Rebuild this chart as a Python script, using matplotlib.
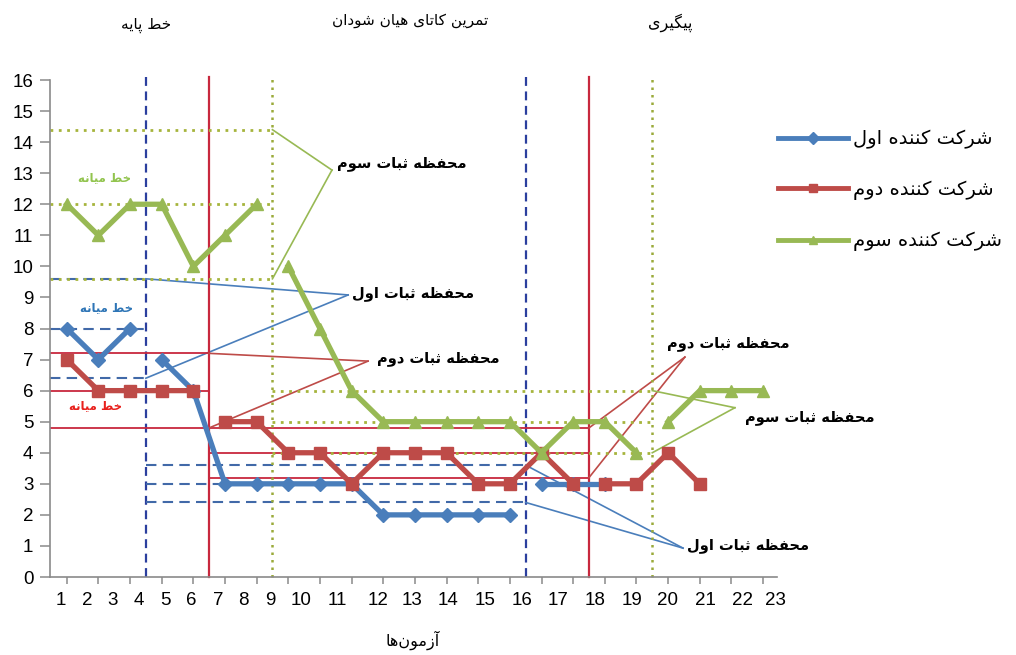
import numpy as np
import matplotlib
matplotlib.use("Agg")
import matplotlib.pyplot as plt
from matplotlib import font_manager as fm
from matplotlib.lines import Line2D

# ---------------- data ----------------
p1_base_x = [1, 2, 3]
p1_base_y = [8, 7, 8]
p1_int_x = list(range(4, 16))
p1_int_y = [7, 6, 3, 3, 3, 3, 3, 2, 2, 2, 2, 2]
p1_fu_x = [16, 17, 18]
p1_fu_y = [3, 3, 3]

p2_base_x = [1, 2, 3, 4, 5]
p2_base_y = [7, 6, 6, 6, 6]
p2_int_x = list(range(6, 18))
p2_int_y = [5, 5, 4, 4, 3, 4, 4, 4, 3, 3, 4, 3]
p2_fu_x = [18, 19, 20, 21]
p2_fu_y = [3, 3, 4, 3]

p3_base_x = [1, 2, 3, 4, 5, 6, 7]
p3_base_y = [12, 11, 12, 12, 10, 11, 12]
p3_int_x = list(range(8, 20))
p3_int_y = [10, 8, 6, 5, 5, 5, 5, 5, 4, 5, 5, 4]
p3_fu_x = [20, 21, 22, 23]
p3_fu_y = [5, 6, 6, 6]

sessions = list(range(1, 24))
tick_labels = [str(s) for s in sessions]
y_ticks = list(range(0, 17))

series_names = ["شرکت کننده اول", "شرکت کننده دوم", "شرکت کننده سوم"]
phase_titles = ["خط پایه", "تمرین کاتای هیان شودان", "پیگیری"]
median_text = "خط میانه"
env_texts = ["محفظه ثبات اول", "محفظه ثبات دوم", "محفظه ثبات سوم"]
x_title = "آزمون\u200cها"

# ---------------- layout (positions in data units) ----------------
XL = (0.472, 23.44)
tick_label_x = [0.81, 1.64, 2.46, 3.28, 4.11, 4.93, 5.78, 6.57, 7.42, 8.40, 9.54,
                10.84, 11.91, 13.05, 14.22, 15.39, 16.53, 17.70, 18.86, 19.97,
                21.17, 22.34, 23.38]
phase_title_pos = [(3.51, 17.77), (11.85, 17.93), (20.06, 17.84)]
median_label_pos = [(2.27, 8.66), (1.92, 5.51), (2.21, 12.85)]
# (text left, text y, tip x, tip y) for baseline and intervention envelope labels
base_lab = [(10.02, 9.14, 9.89, 9.08), (10.81, 7.05, 10.52, 6.95), (9.54, 13.30, 9.38, 13.10)]
int_lab = [(20.60, 1.03, 20.47, 0.93), (19.96, 7.53, 20.53, 7.08), (22.43, 5.12, 22.11, 5.45)]

# ---------------- Persian shaping ----------------
FORMS = {
    'ا': ('\uFE8D', '\uFE8E', None, None),
    'آ': ('\uFE81', '\uFE82', None, None),
    'ب': ('\uFE8F', '\uFE90', '\uFE91', '\uFE92'),
    'پ': ('\uFB56', '\uFB57', '\uFB58', '\uFB59'),
    'ت': ('\uFE95', '\uFE96', '\uFE97', '\uFE98'),
    'ث': ('\uFE99', '\uFE9A', '\uFE9B', '\uFE9C'),
    'ج': ('\uFE9D', '\uFE9E', '\uFE9F', '\uFEA0'),
    'چ': ('\uFB7A', '\uFB7B', '\uFB7C', '\uFB7D'),
    'ح': ('\uFEA1', '\uFEA2', '\uFEA3', '\uFEA4'),
    'خ': ('\uFEA5', '\uFEA6', '\uFEA7', '\uFEA8'),
    'د': ('\uFEA9', '\uFEAA', None, None),
    'ذ': ('\uFEAB', '\uFEAC', None, None),
    'ر': ('\uFEAD', '\uFEAE', None, None),
    'ز': ('\uFEAF', '\uFEB0', None, None),
    'ژ': ('\uFB8A', '\uFB8B', None, None),
    'س': ('\uFEB1', '\uFEB2', '\uFEB3', '\uFEB4'),
    'ش': ('\uFEB5', '\uFEB6', '\uFEB7', '\uFEB8'),
    'ص': ('\uFEB9', '\uFEBA', '\uFEBB', '\uFEBC'),
    'ض': ('\uFEBD', '\uFEBE', '\uFEBF', '\uFEC0'),
    'ط': ('\uFEC1', '\uFEC2', '\uFEC3', '\uFEC4'),
    'ظ': ('\uFEC5', '\uFEC6', '\uFEC7', '\uFEC8'),
    'ع': ('\uFEC9', '\uFECA', '\uFECB', '\uFECC'),
    'غ': ('\uFECD', '\uFECE', '\uFECF', '\uFED0'),
    'ف': ('\uFED1', '\uFED2', '\uFED3', '\uFED4'),
    'ق': ('\uFED5', '\uFED6', '\uFED7', '\uFED8'),
    'ک': ('\uFB8E', '\uFB8F', '\uFB90', '\uFB91'),
    'گ': ('\uFB92', '\uFB93', '\uFB94', '\uFB95'),
    'ل': ('\uFEDD', '\uFEDE', '\uFEDF', '\uFEE0'),
    'م': ('\uFEE1', '\uFEE2', '\uFEE3', '\uFEE4'),
    'ن': ('\uFEE5', '\uFEE6', '\uFEE7', '\uFEE8'),
    'و': ('\uFEED', '\uFEEE', None, None),
    'ه': ('\uFEE9', '\uFEEA', '\uFEEB', '\uFEEC'),
    'ی': ('\uFBFC', '\uFBFD', '\uFBFE', '\uFBFF'),
}


def fa(s):
    chars = list(s)
    out = []
    n = len(chars)
    for i, c in enumerate(chars):
        f = FORMS.get(c)
        if f is None:
            if c != '\u200c':
                out.append(c)
            continue
        pf = FORMS.get(chars[i - 1]) if i > 0 else None
        nf = FORMS.get(chars[i + 1]) if i < n - 1 else None
        jp = pf is not None and pf[2] is not None
        jn = f[2] is not None and nf is not None
        if jp and jn:
            g = f[3]
        elif jp:
            g = f[1]
        elif jn:
            g = f[2]
        else:
            g = f[0]
        out.append(g)
    return ''.join(reversed(out))


plt.rcParams['font.family'] = ['DejaVu Sans']
avail = {f.name for f in fm.fontManager.ttflist}
num_font = 'Liberation Sans Narrow' if 'Liberation Sans Narrow' in avail else 'Liberation Sans'
num_size = 16 if num_font == 'Liberation Sans Narrow' else 13.5

# ---------------- colours ----------------
C = ['#4a7ebb', '#be4b48', '#98b954']
PHASE_C = ['#2b3f9e', '#c8283e', '#9aaa3a']
ENV_C = ['#4169a8', '#c8283e', '#a6b43c']
MED_TXT_C = ['#2e75b6', '#e8201c', '#92c44e']
markers = ['D', 's', '^']
msizes = [7, 8, 9]

fig = plt.figure(figsize=(10.16, 6.55), dpi=100)
ax = fig.add_axes([50 / 1016, 1 - 577 / 655, (777 - 50) / 1016, (577 - 80) / 655])
ax.set_xlim(*XL)
ax.set_ylim(0, 16)

parts = [
    [(p1_base_x, p1_base_y), (p1_int_x, p1_int_y), (p1_fu_x, p1_fu_y)],
    [(p2_base_x, p2_base_y), (p2_int_x, p2_int_y), (p2_fu_x, p2_fu_y)],
    [(p3_base_x, p3_base_y), (p3_int_x, p3_int_y), (p3_fu_x, p3_fu_y)],
]
env_styles = [dict(ls=(0, (5, 3)), lw=1.5), dict(ls='-', lw=1.3), dict(ls=(0, (1, 2)), lw=2.0)]
phase_styles = [dict(ls=(0, (4, 2.5)), lw=1.6), dict(ls='-', lw=1.6), dict(ls=(0, (1, 2)), lw=1.8)]

for i, p in enumerate(parts):
    (bx, by), (ix, iy), (fx, fy) = p
    b1 = (bx[-1] + ix[0]) / 2
    b2 = (ix[-1] + fx[0]) / 2
    # phase lines
    for b in (b1, b2):
        ax.plot([b, b], [0, 16.1], color=PHASE_C[i], zorder=2, clip_on=False, **phase_styles[i])
    # stability envelopes (median +/- 20%)
    bm = float(np.median(by))
    im = float(np.median(iy))
    for v in (bm * 1.2, bm, bm * 0.8):
        ax.plot([XL[0], b1], [v, v], color=ENV_C[i], zorder=2, **env_styles[i])
    for v in (im * 1.2, im, im * 0.8):
        ax.plot([b1, b2], [v, v], color=ENV_C[i], zorder=2, **env_styles[i])
    # median label
    mx, my = median_label_pos[i]
    ax.text(mx, my, fa(median_text), color=MED_TXT_C[i], fontsize=8.5, fontweight='bold',
            ha='center', va='center', zorder=6)
    # envelope labels + pointers
    tx, ty, px, py = base_lab[i]
    for v in (bm * 1.2, bm * 0.8):
        ax.plot([b1, px], [v, py], color=C[i], lw=1.2, zorder=2)
    ax.text(tx, ty, fa(env_texts[i]), fontsize=10.5, fontweight='bold', ha='left', va='center', zorder=6)
    tx, ty, px, py = int_lab[i]
    for v in (im * 1.2, im * 0.8):
        ax.plot([b2, px], [v, py], color=C[i], lw=1.2, zorder=2, clip_on=False)
    ax.text(tx, ty, fa(env_texts[i]), fontsize=10.5, fontweight='bold', ha='left', va='center',
            zorder=6, clip_on=False)

# data series
for i, p in enumerate(parts):
    for (xs, ys) in p:
        ax.plot(xs, ys, color=C[i], lw=3.8, marker=markers[i], ms=msizes[i],
                zorder=4 + i * 0.1, solid_joinstyle='round', clip_on=False)

# phase titles
title_sizes = [11, 11, 11.5]
for (x, y), t, fs in zip(phase_title_pos, phase_titles, title_sizes):
    ax.text(x, y, fa(t), fontsize=fs, ha='center', va='center', clip_on=False)

# axes styling
for s in ('top', 'right'):
    ax.spines[s].set_visible(False)
for s in ('left', 'bottom'):
    ax.spines[s].set_color('#8a8a8a')
    ax.spines[s].set_linewidth(1.2)
ax.set_yticks(y_ticks)
ax.set_yticklabels([str(v) for v in y_ticks], fontfamily=num_font, fontsize=num_size)
ax.tick_params(axis='y', length=7, width=1.1, color='#8a8a8a', pad=5)
ax.set_xticks(tick_label_x)
ax.set_xticklabels(tick_labels, fontfamily=num_font, fontsize=num_size)
ax.tick_params(axis='x', which='major', length=0, pad=11)
ax.set_xticks(sessions, minor=True)
ax.tick_params(axis='x', which='minor', length=5, width=1.1, color='#8a8a8a')

fig.text(413 / 1016, 1 - 640 / 655, fa(x_title), fontsize=11.5, ha='center', va='center')

# legend
handles = [Line2D([0], [0], color=C[i], lw=3.5, marker=markers[i], ms=6) for i in range(3)]
fig.legend(handles, [fa(n) for n in series_names], loc='upper left',
           bbox_to_anchor=(760 / 1016, 1 - 112 / 655), frameon=False, fontsize=14,
           handlelength=3.6, labelspacing=1.6, handletextpad=0.3, numpoints=1)

fig.savefig('out.png', dpi=100)
